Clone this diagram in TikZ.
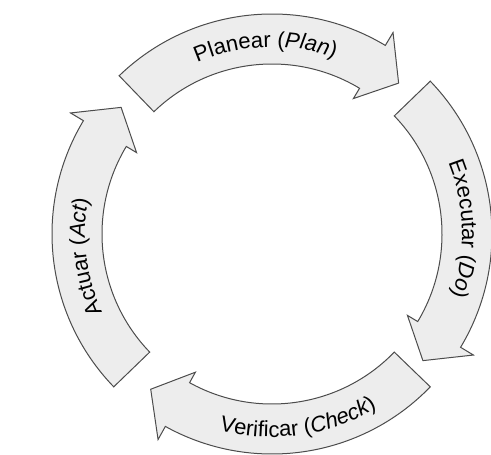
\documentclass[tikz,border=0pt]{standalone}
\usepackage{fontspec}
\setmainfont{Liberation Sans}
\usetikzlibrary{decorations.text}
\tikzset{
  pdcastep/.style={fill=black!7, draw=black!70, line width=0.5pt, line join=miter},
  pdcalabel/.style={decorate, decoration={text along path, text align=center, text={#1}}}
}
\begin{document}
\begin{tikzpicture}[x=0.5pt, y=0.5pt]
\fontsize{11}{13}\selectfont
\useasboundingbox (-272,-220) rectangle (219,234);
\foreach \a [evaluate=\a as \b using \a-75, evaluate=\a as \c using \a-84] in {134,44,-44,-136} {
  \draw[pdcastep] (\a:220) arc[start angle=\a, end angle=\b, radius=220]
    -- (\b:235) -- (\c:197) -- (\b:158) -- (\b:170)
    arc[start angle=\b, end angle=\a, radius=170] -- cycle;
}
\path[pdcalabel={Planear (|\itshape|Plan|\upshape|)}] (132:187) arc[start angle=132, end angle=52, radius=187];
\path[pdcalabel={Executar (|\itshape|Do|\upshape|)}] (41.5:190) arc[start angle=41.5, end angle=-38.5, radius=190];
\path[pdcalabel={Verificar (|\itshape|Check|\upshape|)}] (-122:203) arc[start angle=-122, end angle=-42, radius=203];
\path[pdcalabel={Actuar (|\itshape|Act|\upshape|)}] (227:187) arc[start angle=227, end angle=147, radius=187];
\end{tikzpicture}
\end{document}
